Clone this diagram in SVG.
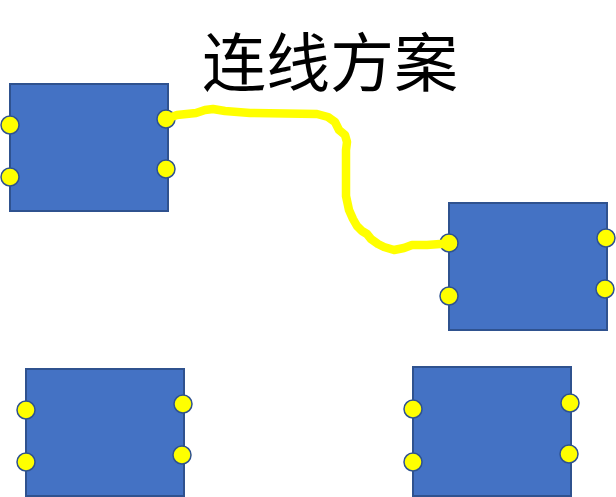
<svg xmlns="http://www.w3.org/2000/svg" width="616" height="497" viewBox="0 0 616 497">
<style>
.box{fill:#4472C4;stroke:#2F528F;stroke-width:2}
.port{fill:#FFFF00;stroke:#2F528F;stroke-width:1.5}
.title{font-family:"Noto Sans CJK SC","Noto Sans",sans-serif;font-size:64px;fill:#000}
.wire{fill:none;stroke:#FFFF00;stroke-width:8.5;stroke-linecap:round;stroke-linejoin:round}
</style>
<rect width="616" height="497" fill="#fff"/>
<text class="title" x="330" y="86" text-anchor="middle">连线方案</text>
<g id="node1">
<rect class="box" x="10" y="84" width="158" height="127"/>
<circle class="port" cx="10" cy="125" r="9"/>
<circle class="port" cx="10" cy="177" r="9"/>
<circle class="port" cx="166" cy="119" r="9"/>
<circle class="port" cx="166" cy="169" r="9"/>
</g>
<g id="node2">
<rect class="box" x="449" y="203" width="158" height="127"/>
<circle class="port" cx="449" cy="243" r="9"/>
<circle class="port" cx="449" cy="296" r="9"/>
<circle class="port" cx="606" cy="238" r="9"/>
<circle class="port" cx="605" cy="289" r="9"/>
</g>
<g id="node3">
<rect class="box" x="26" y="369" width="158" height="127"/>
<circle class="port" cx="26" cy="410" r="9"/>
<circle class="port" cx="26" cy="462" r="9"/>
<circle class="port" cx="183" cy="404" r="9"/>
<circle class="port" cx="182" cy="455" r="9"/>
</g>
<g id="node4">
<rect class="box" x="413" y="367" width="158" height="129"/>
<circle class="port" cx="413" cy="409" r="9"/>
<circle class="port" cx="413" cy="462" r="9"/>
<circle class="port" cx="570" cy="403" r="9"/>
<circle class="port" cx="569" cy="454" r="9"/>
</g>
<g id="connectors">
<path class="wire" d="M166 119 L177 115 L196 113 L205 110 L213 109 L225 111 L250 113 L285 113.5 L317 114 L328 117 L335 122 L339 130 L345 135 L347 142 L346 150 L346 175 L346 196 L349 210 L353 219 L357 226 L362 231 L367 234 L371 239 L378 244 L384 247 L394 250 L404 248 L412 245 L427 245 L440 244 L450 244"/>
<circle cx="451" cy="244" r="6" fill="#FFFF00"/>
</g>
</svg>
